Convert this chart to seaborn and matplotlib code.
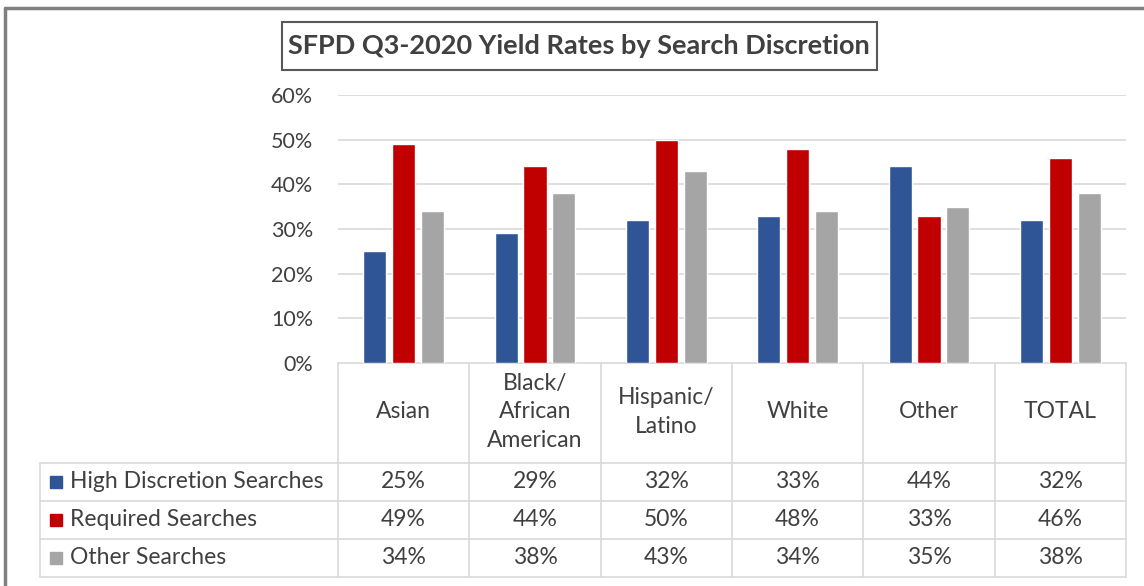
import pandas as pd
import numpy as np
import seaborn as sns
import matplotlib.pyplot as plt
from matplotlib.patches import Rectangle

# ==========================================
# DATA
# ==========================================

categories = ["Asian", "Black/\nAfrican\nAmerican", "Hispanic/\nLatino",
              "White", "Other", "TOTAL"]
series = ["High Discretion Searches", "Required Searches", "Other Searches"]

high_discretion = [25, 29, 32, 33, 44, 32]
required = [49, 44, 50, 48, 33, 46]
other = [34, 38, 43, 34, 35, 38]

colors = ["#2F5597", "#C00000", "#A5A5A5"]

rows = []
for name, vals in zip(series, [high_discretion, required, other]):
    for cat, v in zip(categories, vals):
        rows.append({"group": cat, "series": name, "value": v})
df = pd.DataFrame(rows)

# ==========================================
# FIGURE
# ==========================================

sns.set_style("white")
plt.rcParams["font.family"] = ["Lato", "DejaVu Sans"]

W, H = 1144, 586
fig = plt.figure(figsize=(W / 100, H / 100), dpi=100)

# pixel layout of the plot area
px_left, px_right = 338, 1126
px_top, px_zero = 95, 363
ax = fig.add_axes([px_left / W, 1 - px_zero / H,
                   (px_right - px_left) / W, (px_zero - px_top) / H])

sns.barplot(
    data=df,
    x="group",
    y="value",
    hue="series",
    palette=colors,
    saturation=1,
    width=0.66,
    gap=0.2,
    legend=False,
    ax=ax
)

ax.set_ylim(0, 60)
ax.set_yticks(range(0, 61, 10))
ax.set_yticklabels([f"{t}%" for t in range(0, 61, 10)],
                   fontsize=15.5, color="#404040")
ax.tick_params(axis="y", length=0, pad=18)
ax.set_xticks([])
ax.set_xlabel("")
ax.set_ylabel("")
ax.grid(axis="y", color="#D9D9D9", linewidth=1.2)
ax.set_axisbelow(True)
for s in ax.spines.values():
    s.set_visible(False)

# ==========================================
# DATA TABLE
# ==========================================

tab = fig.add_axes([0, 0, 1, 1], zorder=-1)
tab.set_xlim(0, W)
tab.set_ylim(H, 0)
tab.axis("off")

line_c = "#D9D9D9"
text_c = "#404040"
fs = 16.5
n = len(categories)
edges = np.linspace(px_left, px_right, n + 1)
centers = (edges[:-1] + edges[1:]) / 2

table_left = 40
row_lines = [463, 501, 539, 577]

# header row
tab.plot([px_left, px_right], [px_zero, px_zero], color=line_c, lw=1.2)
for x in edges:
    tab.plot([x, x], [px_zero, row_lines[-1]], color=line_c, lw=1.2)
for cx, cat in zip(centers, categories):
    tab.text(cx, 412, cat, ha="center", va="center", fontsize=fs,
             color=text_c, linespacing=1.45)

# data rows
for y in row_lines:
    tab.plot([table_left, px_right], [y, y], color=line_c, lw=1.2)
tab.plot([table_left, table_left], [row_lines[0], row_lines[-1]],
         color=line_c, lw=1.2)

for i, (name, vals, col) in enumerate(
        zip(series, [high_discretion, required, other], colors)):
    cy = (row_lines[i] + row_lines[i + 1]) / 2
    tab.add_patch(Rectangle((50, cy - 6), 12, 12, color=col))
    tab.text(70, cy, name, ha="left", va="center", fontsize=fs, color=text_c)
    for cx, v in zip(centers, vals):
        tab.text(cx, cy, f"{v}%", ha="center", va="center",
                 fontsize=fs, color=text_c)

# ==========================================
# TITLE BOX AND FRAME
# ==========================================

tab.text(579, 46, "SFPD Q3-2020 Yield Rates by Search Discretion",
         ha="center", va="center", fontsize=19.5, fontweight="bold",
         color="#404040")
tab.add_patch(Rectangle((282, 22), 595, 48, fill=False,
                        edgecolor="#595959", lw=1.5))

tab.plot([5, 5], [8, H], color="#808080", lw=2.5)
tab.plot([5, W], [8, 8], color="#808080", lw=2.5)

fig.savefig("out.png", dpi=100)
